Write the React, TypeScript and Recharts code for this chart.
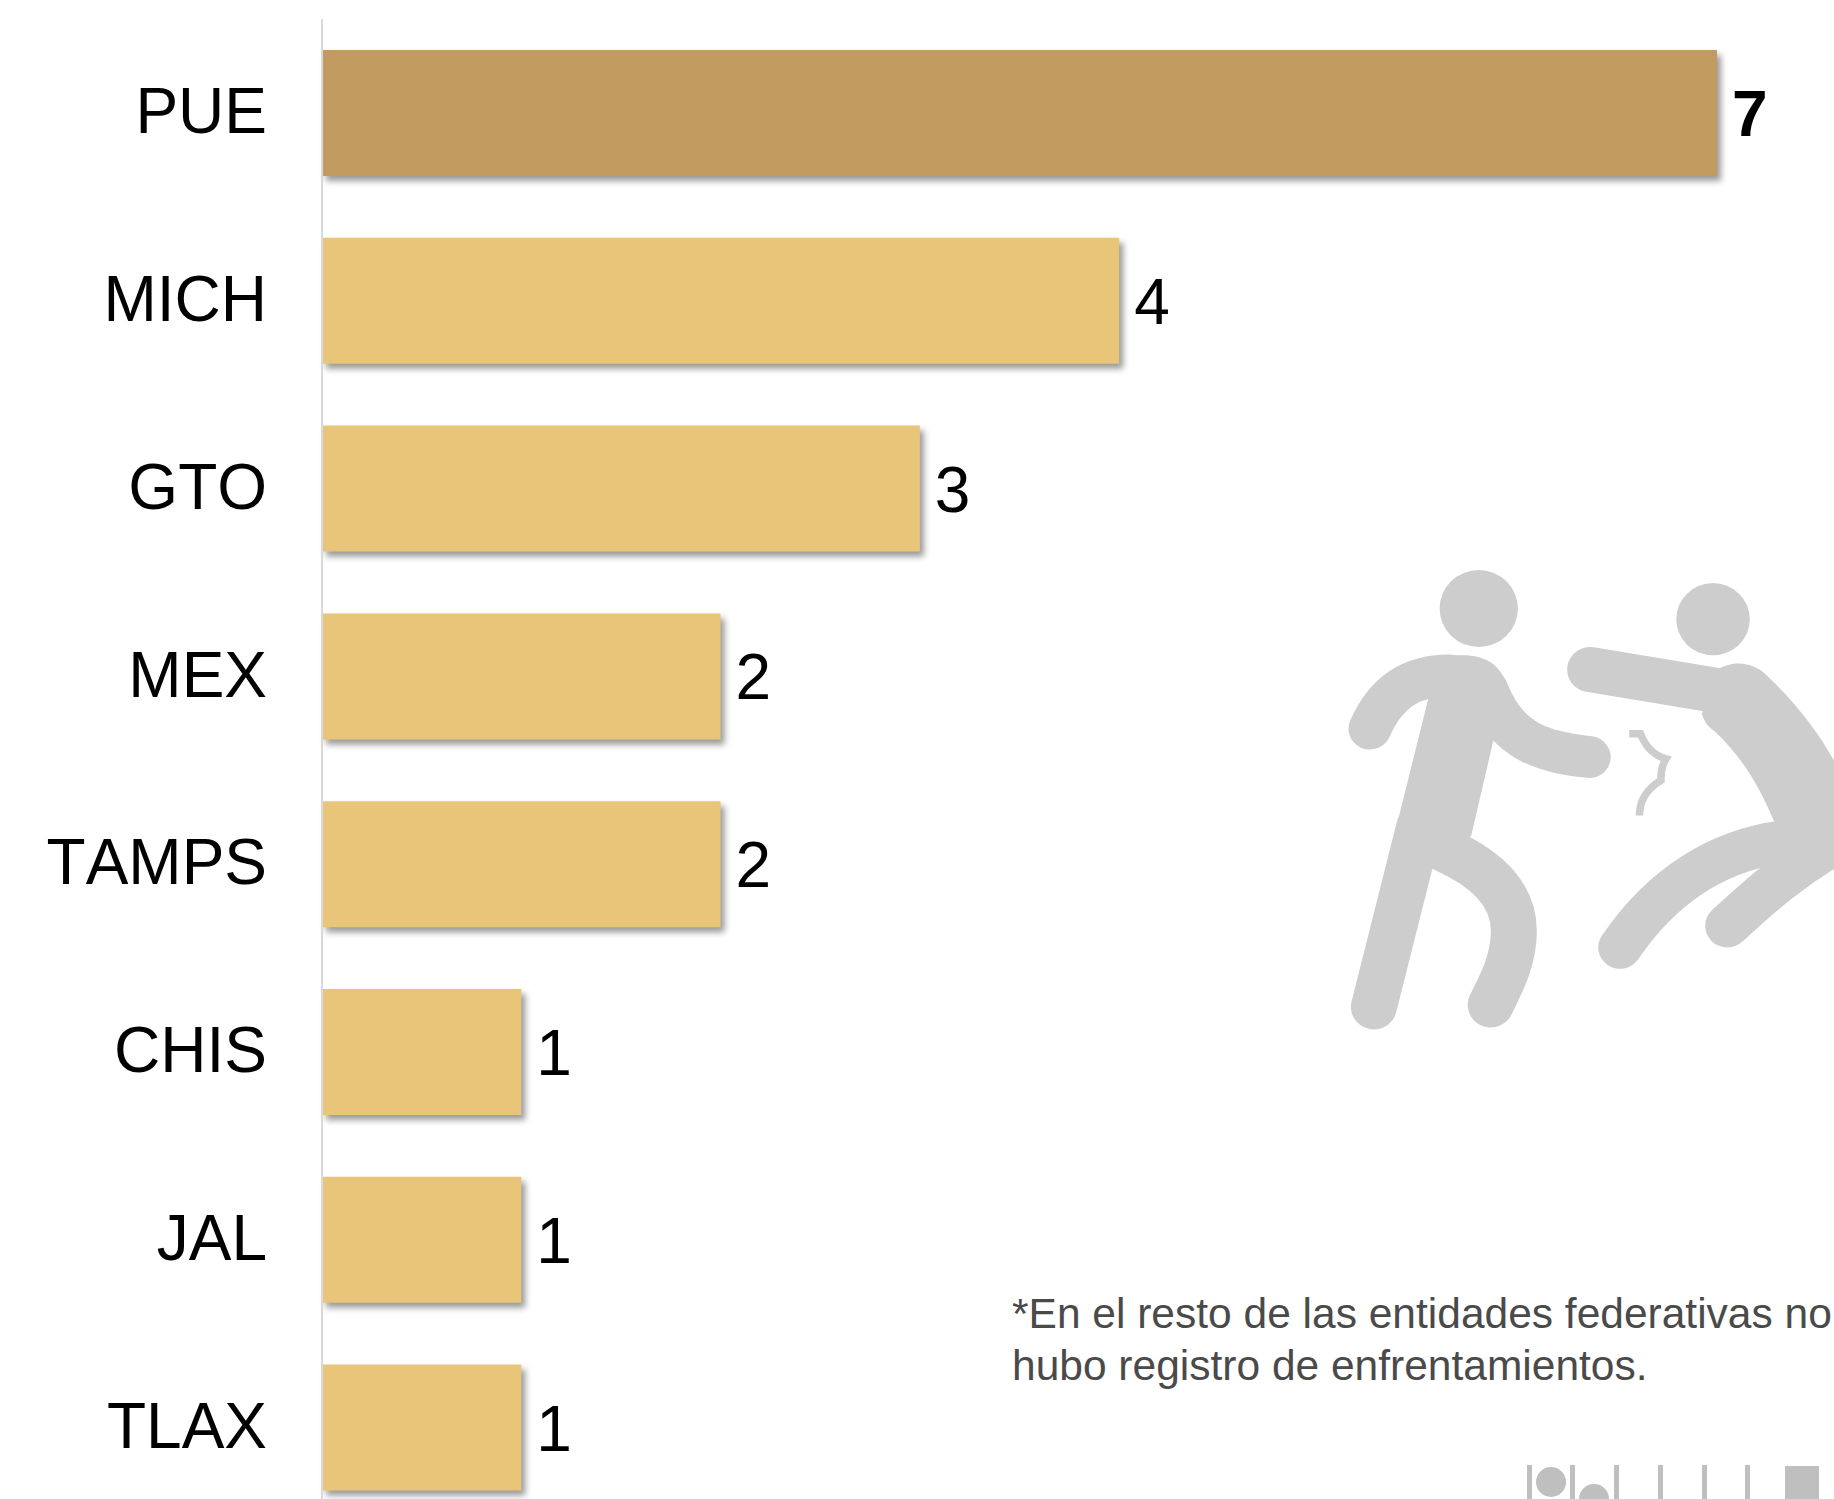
import { BarChart, Bar, XAxis, YAxis, Cell, LabelList, Rectangle } from "recharts"

const states = ["PUE", "MICH", "GTO", "MEX", "TAMPS", "CHIS", "JAL", "TLAX"]
const values = [7, 4, 3, 2, 2, 1, 1, 1]
const noteLines = [
  "*En el resto de las entidades federativas no",
  "hubo registro de enfrentamientos.",
]

const FONT = "'Liberation Sans', Arial, sans-serif"
const ICON_GREY = "#cdcdcd"
const STRIP_GREY = "#bfbfbf"

const data = states.map((state, i) => ({ state, value: values[i] }))

// the bars carry a soft shadow to the lower right
const ShadowBar = (props: any) => (
  <Rectangle {...props} style={{ filter: "drop-shadow(4px 5px 3px rgba(0,0,0,0.4))" }} />
)

const ValueLabel = (props: any) => {
  const { x, y, width, height, value, index } = props
  return (
    <text
      x={x + width + 15}
      y={y + height / 2 + 23}
      fontFamily={FONT}
      fontSize={64}
      fontWeight={index === 0 ? 700 : 400}
      fill="#000"
    >
      {value}
    </text>
  )
}

// fight pictogram, traced in zoomed coordinates
function FightIcon() {
  const limb = { fill: "none", stroke: ICON_GREY, strokeLinecap: "round" as const }
  return (
    <g transform="translate(1300 540) scale(0.3405 0.334)">
      <circle cx={525} cy={205} r={115} fill={ICON_GREY} />
      <path d="M378,470 L290,830 L395,985 L503,885 L568,600 L610,440 C590,370 540,345 480,345 L430,345 Z" fill={ICON_GREY} />
      <path d="M217,1398 L350,860" {...limb} strokeWidth={135} />
      <path d="M430,930 C560,990 628,1070 628,1170 C628,1260 590,1330 560,1392" {...limb} strokeWidth={135} />
      <path d="M850,650 C720,635 610,610 550,450" {...limb} strokeWidth={125} />
      <path d="M205,565 C250,460 320,405 440,405" {...limb} strokeWidth={125} />

      <circle cx={1213} cy={237} r={108} fill={ICON_GREY} />
      <path d="M852,388 L1250,455" {...limb} strokeWidth={135} />
      <path
        d="M1180,520 C1190,550 1200,560 1215,570 C1300,650 1350,740 1392,842 L1500,1000 L1700,950 L1700,800 L1568,660 C1520,570 1450,480 1360,395 C1340,380 1290,350 1225,388 Z"
        fill={ICON_GREY}
      />
      <path d="M940,1220 C1060,1040 1230,920 1450,900" {...limb} strokeWidth={128} />
      <path d="M1255,1155 C1340,1075 1450,970 1620,880" {...limb} strokeWidth={130} />
      <path
        d="M967,580 L1000,580 C1015,620 1040,645 1075,655 C1060,680 1060,700 1060,720 C1020,745 997,780 997,825"
        fill="none"
        stroke={ICON_GREY}
        strokeWidth={22}
      />
    </g>
  )
}

// cut-off logo at the bottom right
const stripBars = [1527, 1570, 1614, 1658, 1702, 1745]
function LogoStrip() {
  return (
    <g fill={STRIP_GREY}>
      {stripBars.map((x) => (
        <rect key={x} x={x} y={1465} width={5} height={34} />
      ))}
      <circle cx={1551} cy={1482} r={15} />
      <circle cx={1594} cy={1499} r={15} />
      <rect x={1785} y={1466} width={34} height={33} />
    </g>
  )
}

export default function App() {
  return (
    <div style={{ position: "absolute", left: 0, top: 0, width: 1834, height: 1499, overflow: "hidden", background: "#fff" }}>
      <BarChart
        width={1834}
        height={1530}
        data={data}
        layout="vertical"
        margin={{ top: 19, right: 117, bottom: 8.6, left: 0 }}
      >
        <XAxis type="number" domain={[0, 7]} hide />
        <YAxis
          type="category"
          dataKey="state"
          width={322}
          tickLine={false}
          tickMargin={49}
          axisLine={{ stroke: "#d9d9d9", strokeWidth: 2, transform: "translate(-1px, 0)" }}
          tick={{ fontSize: 64, fontFamily: FONT, fill: "#000", dy: -2.5, style: { fontKerning: "none" } }}
          interval={0}
        />
        <Bar dataKey="value" barSize={126} isAnimationActive={false} shape={ShadowBar}>
          {data.map((d, i) => (
            <Cell key={d.state} fill={i === 0 ? "#c29b60" : "#e9c57a"} />
          ))}
          <LabelList dataKey="value" content={ValueLabel} />
        </Bar>
      </BarChart>
      <svg width={1834} height={1499} style={{ position: "absolute", left: 0, top: 0 }}>
        <FightIcon />
        <LogoStrip />
      </svg>
      <div
        style={{
          position: "absolute",
          left: 1012,
          top: 1288,
          fontFamily: FONT,
          fontSize: 42.5,
          lineHeight: "51.5px",
          color: "#4a4a4a",
          whiteSpace: "nowrap",
        }}
      >
        {noteLines.map((line) => (
          <div key={line}>{line}</div>
        ))}
      </div>
    </div>
  )
}
